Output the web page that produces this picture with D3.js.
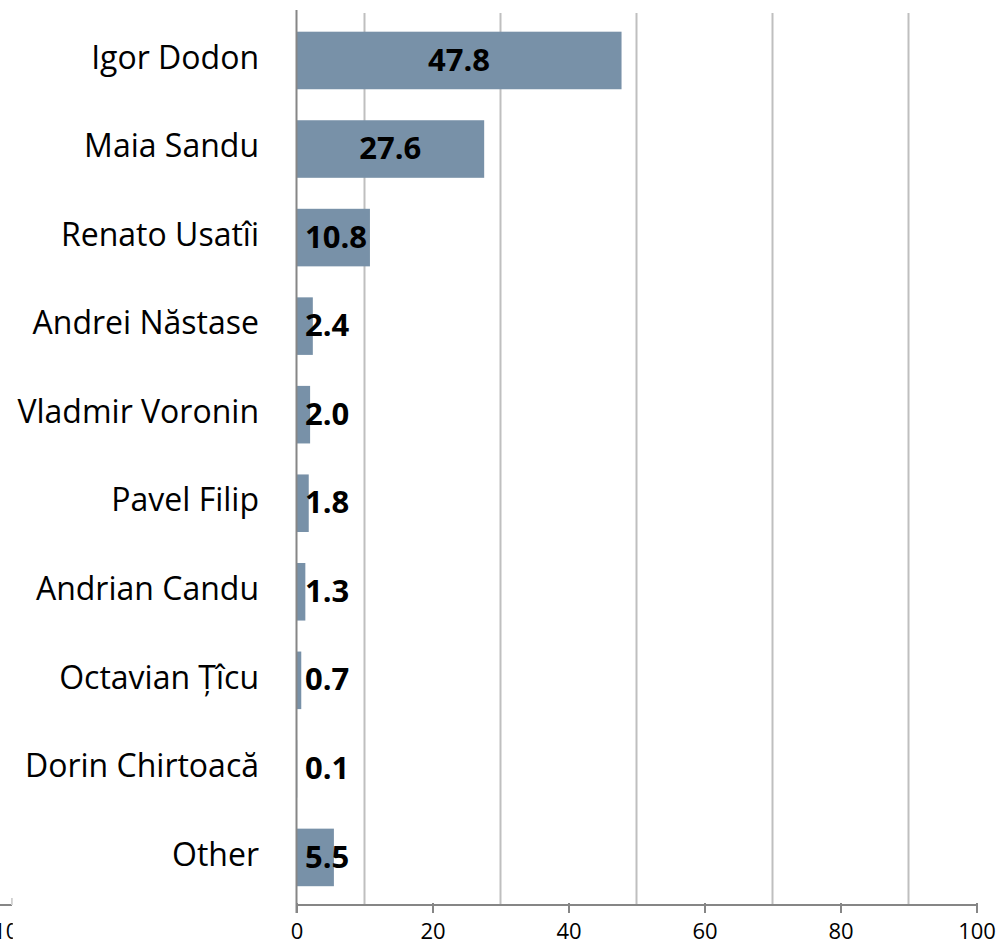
<!DOCTYPE html>
<html>
<head>
<meta charset="utf-8">
<script src="https://cdn.jsdelivr.net/npm/d3@7"></script>
<style>
  html, body { margin: 0; padding: 0; background: #fff; }
  svg { display: block; }
</style>
</head>
<body>
<svg id="chart" width="1002" height="946"></svg>
<script>
// Candidates and their vote share (%)
const candidates = [
  "Igor Dodon", "Maia Sandu", "Renato Usatîi", "Andrei Năstase",
  "Vladmir Voronin", "Pavel Filip", "Andrian Candu", "Octavian Țîcu",
  "Dorin Chirtoacă", "Other"
];
const shares = [47.8, 27.6, 10.8, 2.4, 2.0, 1.8, 1.3, 0.7, 0.1, 5.5];
const tickValues = [0, 20, 40, 60, 80, 100];
const gridValues = [10, 30, 50, 70, 90];

const data = candidates.map((name, i) => ({ name, value: shares[i] }));

const svg = d3.select("#chart");
const font = "'Open Sans', 'Noto Sans', sans-serif";

const x = d3.scaleLinear().domain([0, 100]).range([296.5, 976.5]);
const y = d3.scaleBand().domain(candidates).range([16.2, 901.7]).paddingInner(0.35).paddingOuter(0.175);
const axisY = 905;

// light gridlines between the labelled ticks
svg.append("g").selectAll("line").data(gridValues).join("line")
  .attr("x1", d => x(d)).attr("x2", d => x(d))
  .attr("y1", 13).attr("y2", axisY)
  .attr("stroke", "#bfbfbf").attr("stroke-width", 2);

// bars
svg.append("g").selectAll("rect").data(data).join("rect")
  .attr("x", x(0))
  .attr("y", d => y(d.name))
  .attr("width", d => x(d.value) - x(0))
  .attr("height", y.bandwidth())
  .attr("fill", "#7891a8");

// bottom axis
const xAxis = d3.axisBottom(x).tickValues(tickValues).tickSize(8).tickPadding(10)
  .tickFormat(d3.format("d"));
const gx = svg.append("g").attr("transform", `translate(0,${axisY})`).call(xAxis);
gx.select(".domain").attr("stroke", "#868686").attr("stroke-width", 2)
  .attr("d", `M${x(0)},0H${x(100)}`);
gx.selectAll(".tick line").attr("stroke", "#868686").attr("stroke-width", 2).attr("y1", -2);
gx.selectAll(".tick text").attr("font-family", font).attr("font-size", 22)
  .attr("fill", "#000").attr("dy", "0.71em");

// vertical axis line at zero
svg.append("line")
  .attr("x1", x(0)).attr("x2", x(0)).attr("y1", 10).attr("y2", axisY + 8)
  .attr("stroke", "#868686").attr("stroke-width", 2);

// category labels
svg.append("g").selectAll("text").data(data).join("text")
  .attr("x", 259)
  .attr("y", d => y(d.name) + y.bandwidth() / 2 - 3)
  .attr("dy", "0.35em")
  .attr("text-anchor", "end")
  .attr("font-family", font).attr("font-size", 32).attr("fill", "#000")
  .text(d => d.name);

// value labels: centred on the bar, kept clear of the zero axis
const vals = svg.append("g").selectAll("text").data(data).join("text")
  .attr("y", d => y(d.name) + y.bandwidth() / 2 - 1)
  .attr("dy", "0.36em")
  .attr("text-anchor", "middle")
  .attr("font-family", font).attr("font-size", 31).attr("font-weight", 700)
  .attr("fill", "#000")
  .text(d => d.value.toFixed(1));
vals.each(function(d) {
  const w = this.getComputedTextLength();
  const cx = (x(0) + x(d.value)) / 2;
  d3.select(this).attr("x", Math.max(cx, x(0) + 8.5 + w / 2));
});

// edge of the neighbouring panel's axis, cut off at the left border
const clip = svg.append("defs").append("clipPath").attr("id", "leftClip");
clip.append("rect").attr("x", 0).attr("y", 880).attr("width", 12.8).attr("height", 66);
const left = svg.append("g").attr("clip-path", "url(#leftClip)");
left.append("line").attr("x1", 0).attr("x2", 12).attr("y1", axisY).attr("y2", axisY)
  .attr("stroke", "#868686").attr("stroke-width", 2);
left.append("line").attr("x1", 12).attr("x2", 12).attr("y1", 898).attr("y2", axisY)
  .attr("stroke", "#d0d0d0").attr("stroke-width", 2);
left.append("text").attr("x", 12).attr("y", axisY + 18).attr("dy", "0.71em")
  .attr("text-anchor", "middle").attr("font-family", font).attr("font-size", 22)
  .text("100");
</script>
</body>
</html>
